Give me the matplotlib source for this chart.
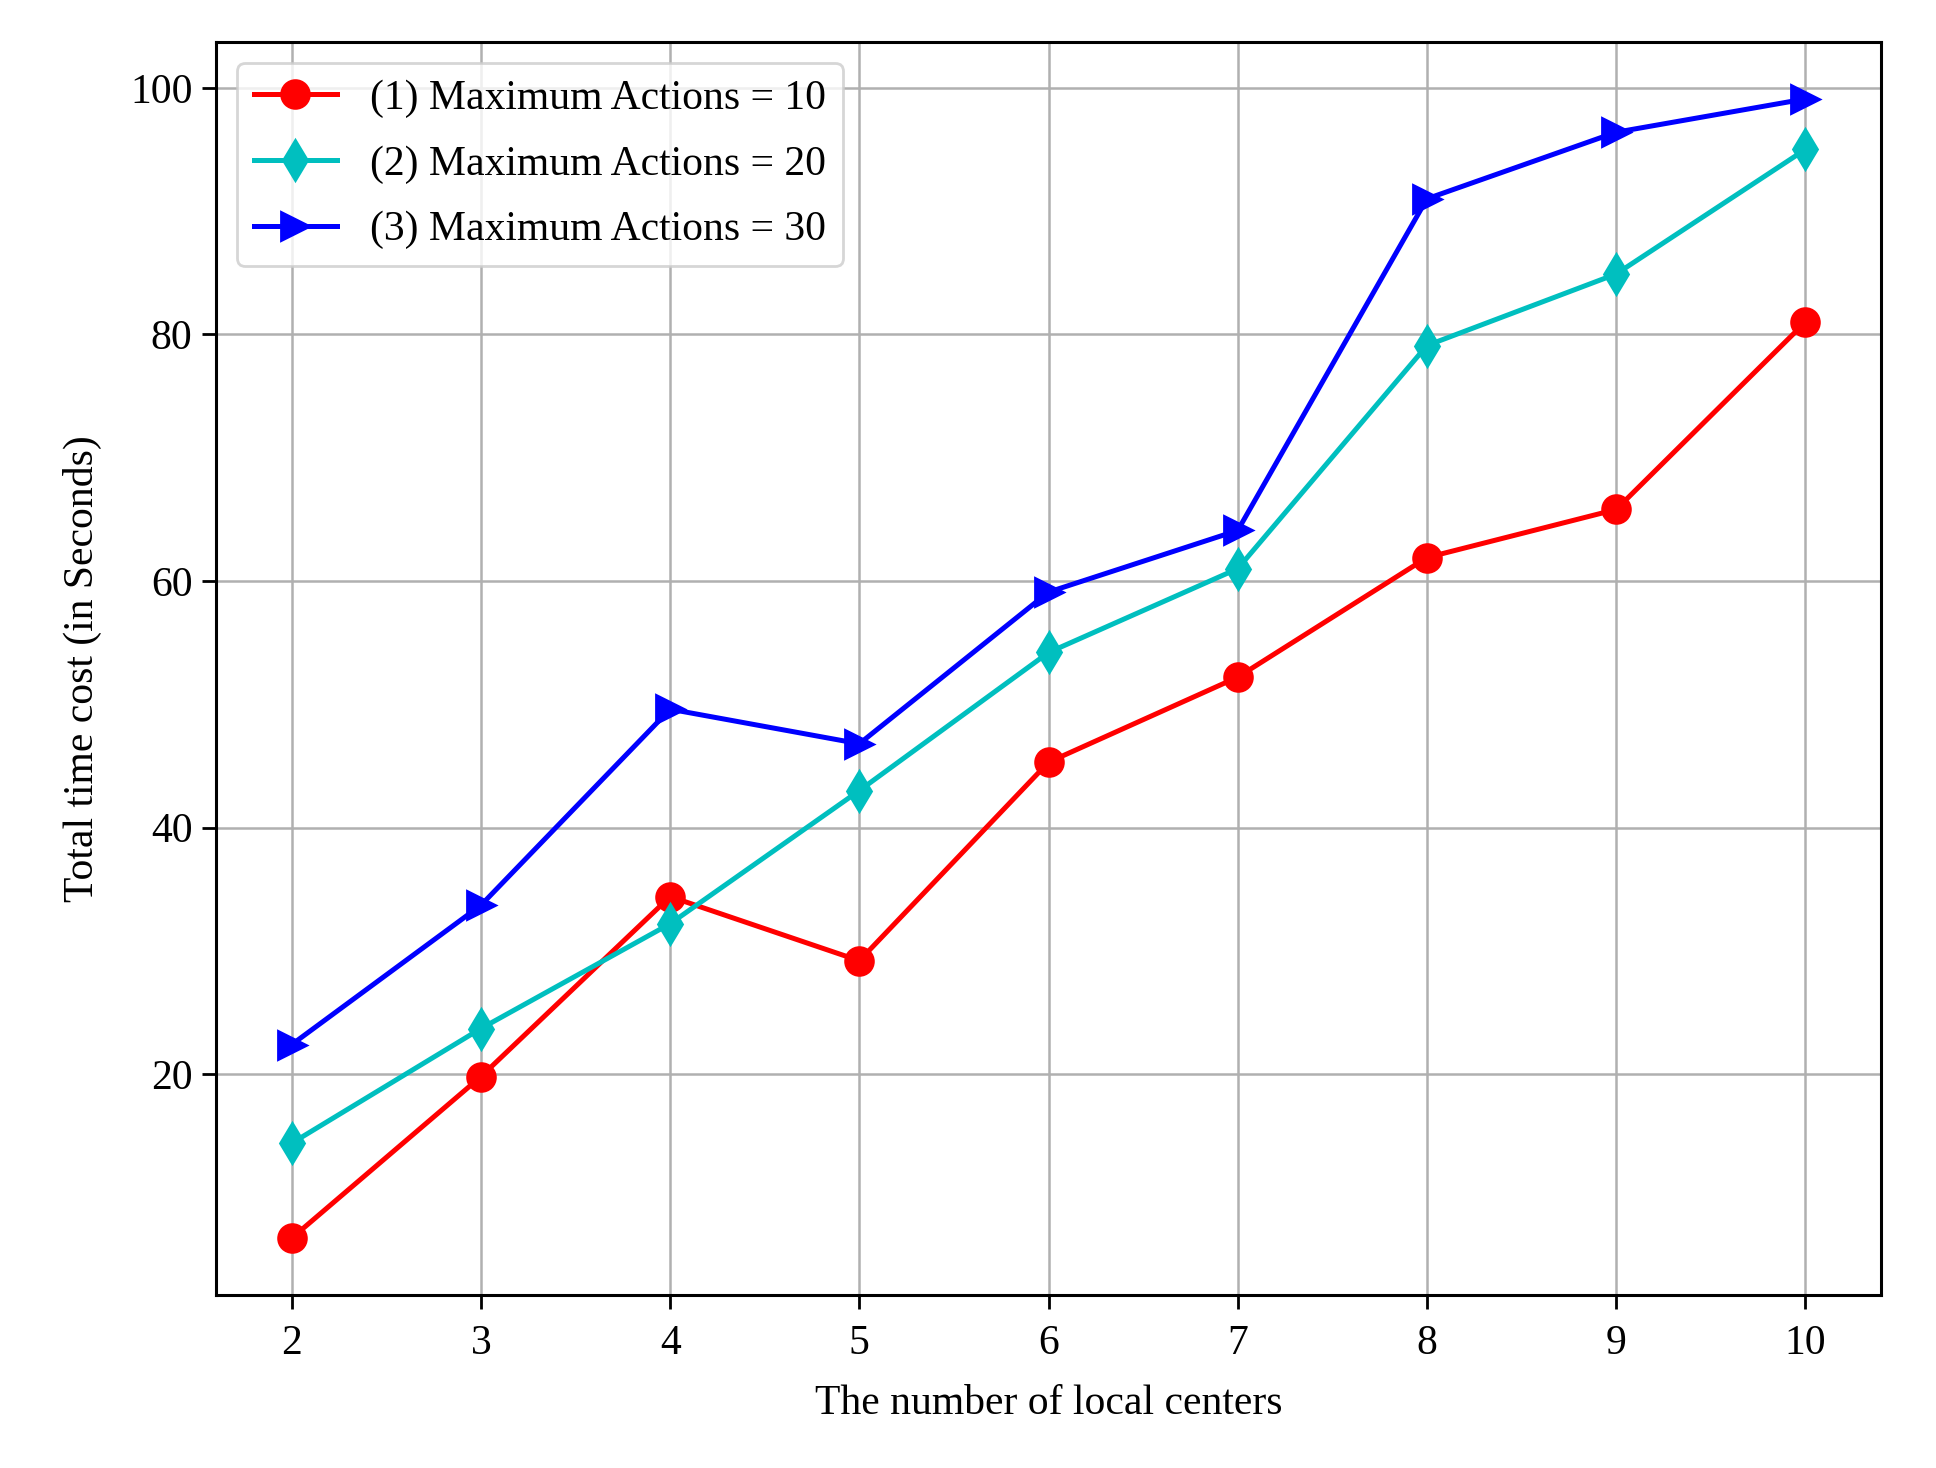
import numpy as np
import matplotlib
matplotlib.use("Agg")
import matplotlib.pyplot as plt

plt.rcParams['font.family'] = ['Liberation Serif', 'DejaVu Serif']
plt.rcParams['font.size'] = 15

# number of local centers
centers = [2, 3, 4, 5, 6, 7, 8, 9, 10]

# total time cost (seconds) per max-actions setting
cost_10 = [6.7, 19.8, 34.4, 29.2, 45.3, 52.2, 61.9, 65.8, 81.0]
cost_20 = [14.4, 23.7, 32.2, 43.0, 54.2, 61.0, 79.1, 84.9, 95.0]
cost_30 = [22.4, 33.7, 49.6, 46.8, 59.1, 64.1, 91.0, 96.4, 99.1]

labels = ['(1) Maximum Actions = 10',
          '(2) Maximum Actions = 20',
          '(3) Maximum Actions = 30']


def plot_data():
    fig = plt.figure(figsize=(9.68, 7.34), dpi=200)
    ax = fig.add_axes([0.1116, 0.1178, 0.86, 0.8536])
    ax.plot(centers, cost_10, color='r', marker='o', markersize=10,
            linewidth=1.8, label=labels[0])
    ax.plot(centers, cost_20, color='c', marker='d', markersize=10,
            linewidth=1.8, label=labels[1])
    ax.plot(centers, cost_30, color='b', marker='>', markersize=10,
            linewidth=1.8, label=labels[2])
    ax.set_xticks(centers)
    ax.set_yticks([20, 40, 60, 80, 100])
    ax.set_xlabel('The number of local centers', labelpad=8)
    ax.set_ylabel('Total time cost (in Seconds)', labelpad=10)
    ax.grid(True, color='#b0b0b0', linewidth=0.9)
    ax.tick_params(length=5, width=1.0)
    ax.tick_params(axis='x', pad=5.5)
    for sp in ax.spines.values():
        sp.set_linewidth(1.1)
    ax.legend(loc='upper left', fontsize=15, labelspacing=0.65)
    fig.savefig('out.png', dpi=200)


plot_data()
